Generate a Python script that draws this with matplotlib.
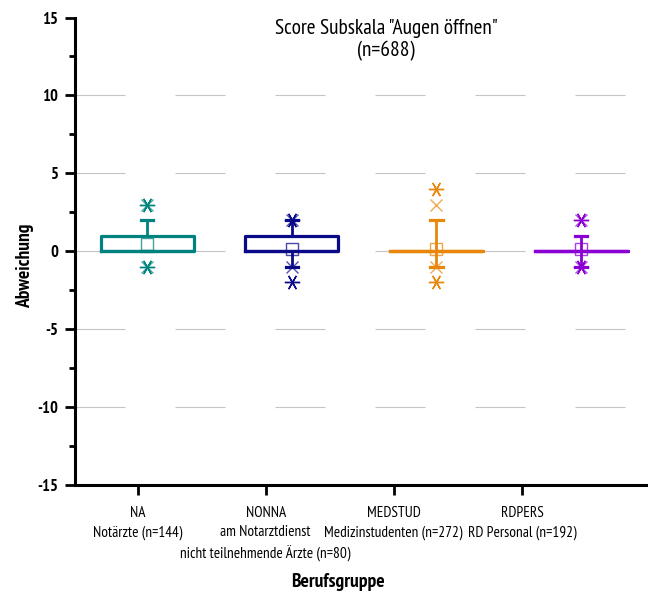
import matplotlib
matplotlib.use("Agg")
import matplotlib.pyplot as plt

# data
groups = ["NA", "NONNA", "MEDSTUD", "RDPERS"]
tick_labels = [
    "NA\nNotärzte (n=144)",
    "NONNA\nam Notarztdienst\nnicht teilnehmende Ärzte (n=80)",
    "MEDSTUD\nMedizinstudenten (n=272)",
    "RDPERS\nRD Personal (n=192)",
]
q1 = [0, 0, 0, 0]
q3 = [1, 1, 0, 0]
median = [0, 0, 0, 0]
mean = [0.45, 0.15, 0.13, 0.15]
whis_lo = [0, -1, -1, -1]
whis_hi = [2, 2, 2, 1]
p01 = [-1, -1, -1, -1]
p99 = [3, 2, 3, 2]
mins = [-1, -2, -2, -1]
maxs = [3, 2, 4, 2]
colors = ["#00827E", "#0A0A88", "#E8870C", "#8A00D2"]

plt.rcParams["font.family"] = ["PT Sans Narrow", "DejaVu Sans"]
plt.rcParams["lines.scale_dashes"] = False
plt.rcParams["axes.unicode_minus"] = False

fig = plt.figure(figsize=(6.48, 5.93), dpi=100)
ax = fig.add_axes([75 / 648, 1 - 485 / 593, 578.4 / 648, 467.5 / 593])

# dashed grid, 50 px on / 50 px off
for yv in [-10, -5, 0, 5, 10]:
    ax.axhline(yv, color="#c4c4c4", lw=0.8, ls=(0, (36, 36)), zorder=0)

for i, g in enumerate(groups):
    pos = i + 1
    c = colors[i]
    stats = [{"med": median[i], "q1": q1[i], "q3": q3[i],
              "whislo": whis_lo[i], "whishi": whis_hi[i],
              "mean": mean[i], "fliers": [], "label": g}]
    ax.bxp(stats, positions=[pos], widths=0.643, capwidths=0.085,
           showmeans=True, showfliers=False, manage_ticks=False,
           boxprops=dict(color=c, lw=2.3),
           medianprops=dict(color=c, lw=2.3),
           whiskerprops=dict(color=c, lw=2.0),
           capprops=dict(color=c, lw=2.3),
           meanprops=dict(marker="s", markersize=8, markerfacecolor="none",
                          markeredgecolor=c, markeredgewidth=1.0, alpha=0.75))
    ax.plot([pos, pos], [p01[i], p99[i]], ls="none", marker="x",
            markersize=9, color=c, mew=1.0, alpha=0.7)
    ax.plot([pos, pos], [mins[i], maxs[i]], ls="none", marker=(6, 2, 90),
            markersize=11, color=c, mew=1.0)

ax.set_xlim(0.5, 4.5)
ax.set_ylim(-15, 15)
ax.set_yticks([-15, -10, -5, 0, 5, 10, 15])
ax.set_yticks([-12.5, -7.5, -2.5, 2.5, 7.5, 12.5], minor=True)
ax.set_xticks([0.934, 1.819, 2.704, 3.593])
ax.set_xticklabels(tick_labels, fontsize=11, linespacing=1.5)
ax.tick_params(axis="y", which="major", length=7, width=2, labelsize=12, pad=5)
ax.tick_params(axis="y", which="minor", length=4, width=2)
ax.tick_params(axis="x", which="major", length=7, width=2, pad=8)
for lab in ax.get_yticklabels():
    lab.set_fontweight("bold")
for s in ["top", "right"]:
    ax.spines[s].set_visible(False)
for s in ["left", "bottom"]:
    ax.spines[s].set_linewidth(2.2)

ax.set_ylabel("Abweichung", fontsize=14, fontweight="bold")
ax.yaxis.set_label_coords((25 - 75) / 578.4, (485 - 266) / 467.5)
ax.yaxis.label.set_va("center")
ax.set_xlabel("Berufsgruppe", fontsize=14, fontweight="bold")
ax.xaxis.set_label_coords((338 - 75) / 578.4, (485 - 581.7) / 467.5)
ax.xaxis.label.set_va("center")

fig.text(386 / 648, 1 - 29 / 593, 'Score Subskala "Augen öffnen"',
         ha="center", va="center", fontsize=15.4)
fig.text(386 / 648, 1 - 51 / 593, "(n=688)", ha="center", va="center",
         fontsize=15.4)

fig.savefig("out.png", dpi=100)
